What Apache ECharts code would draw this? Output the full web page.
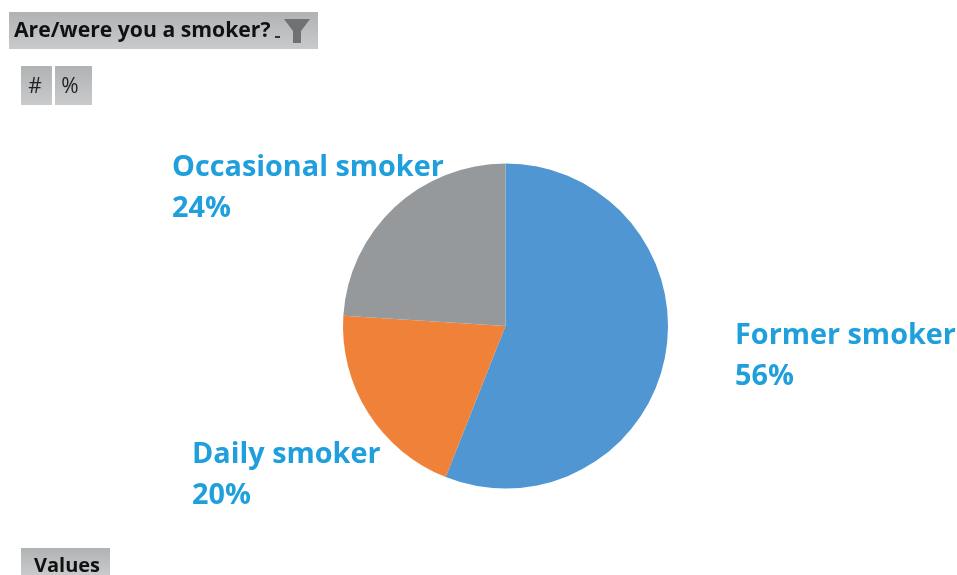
<!DOCTYPE html>
<html>
<head>
<meta charset="utf-8">
<style>html,body{margin:0;padding:0;background:#fff}#chart{width:957px;height:575px}</style>
<script src="https://cdn.jsdelivr.net/npm/echarts@6/dist/echarts.min.js"></script>
</head>
<body>
<div id="chart"></div>
<script>
// Smoking status shares
const categories = ['Former smoker', 'Daily smoker', 'Occasional smoker'];
const shares = [56, 20, 24];
const sliceColors = ['#4f96d2', '#f08138', '#96999b'];
const labelAnchors = [[735, 356], [192, 475], [172, 188]];
const fieldTitle = 'Are/were you a smoker?';
const toggleLabels = ['#', '%'];
const valuesLabel = 'Values';

const buttonFill = {
  type: 'linear', x: 0, y: 0, x2: 0, y2: 1,
  colorStops: [{offset: 0, color: '#b0b2b3'}, {offset: 1, color: '#c8cacb'}]
};
const uiFont = '"Open Sans", "Noto Sans", sans-serif';

const chart = echarts.init(document.getElementById('chart'), null, {renderer: 'canvas'});
chart.setOption({
  animation: false,
  backgroundColor: '#ffffff',
  series: [{
    type: 'pie',
    center: [505.5, 326],
    radius: [0, 162.5],
    startAngle: 90,
    clockwise: true,
    data: categories.map((name, i) => ({
      name, value: shares[i], itemStyle: {color: sliceColors[i]}
    })),
    label: {
      show: true,
      position: 'outside',
      formatter: '{b}\n{c}%',
      color: '#1f9fdb',
      fontFamily: uiFont,
      fontWeight: 700,
      fontSize: 28.8,
      lineHeight: 41,
      align: 'left'
    },
    labelLine: {show: false},
    labelLayout: params => ({
      x: labelAnchors[params.dataIndex][0],
      y: labelAnchors[params.dataIndex][1],
      align: 'left',
      verticalAlign: 'middle'
    })
  }],
  graphic: [
    {type: 'rect', shape: {x: 9, y: 12, width: 309, height: 37}, style: {fill: buttonFill}},
    {type: 'text', style: {x: 14, y: 31, text: fieldTitle, fontFamily: uiFont, fontWeight: 700, fontSize: 21.2, fill: '#111', verticalAlign: 'middle'}},
    {type: 'rect', shape: {x: 275, y: 36, width: 5, height: 2}, style: {fill: '#333'}},
    {type: 'polygon', shape: {points: [[284, 19], [310, 19], [301, 31], [301, 43], [293, 43], [293, 31]]}, style: {fill: '#6f7173'}},
    {type: 'rect', shape: {x: 21, y: 66, width: 31, height: 39}, style: {fill: buttonFill}},
    {type: 'rect', shape: {x: 55, y: 66, width: 37, height: 39}, style: {fill: buttonFill}},
    {type: 'text', style: {x: 35, y: 87, text: toggleLabels[0], fontFamily: uiFont, fontWeight: 400, fontSize: 21, fill: '#222', align: 'center', verticalAlign: 'middle'}},
    {type: 'text', style: {x: 70, y: 87, text: toggleLabels[1], fontFamily: uiFont, fontWeight: 400, fontSize: 21, fill: '#222', align: 'center', verticalAlign: 'middle'}},
    {type: 'rect', shape: {x: 21, y: 548, width: 89, height: 27}, style: {fill: buttonFill}},
    {type: 'text', style: {x: 67, y: 566, text: valuesLabel, fontFamily: uiFont, fontWeight: 700, fontSize: 20, fill: '#111', align: 'center', verticalAlign: 'middle'}}
  ]
});
</script>
</body>
</html>
